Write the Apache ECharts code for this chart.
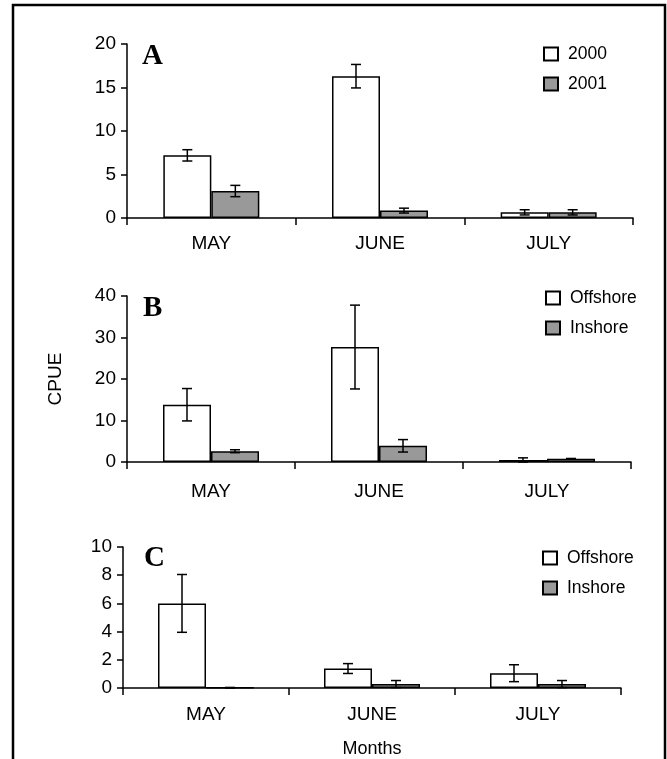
<!DOCTYPE html>
<html lang="en">
<head>
    <meta charset="UTF-8">
    <title>CPUE by month</title>
    <script src="https://cdn.jsdelivr.net/npm/echarts@6/dist/echarts.min.js"></script>
    <style>
        html, body { margin: 0; padding: 0; background: #fff; }
    </style>
</head>
<body>
<!--图形的容器-->
<div id="main" style="width: 667px;height: 759px;"></div>
<script>
    // data
    var months = ['MAY', 'JUNE', 'JULY'];

    // panel A
    var aLegend = ['2000', '2001'];
    var a2000 = [7.2, 16.3, 0.65];
    var a2000Err = [0.65, 1.35, 0.3];
    var a2001 = [3.1, 0.85, 0.65];
    var a2001Err = [0.65, 0.28, 0.3];
    var aTicks = [0, 20, 5];

    // panel B
    var bLegend = ['Offshore', 'Inshore'];
    var bOffshore = [13.8, 27.7, 0.5];
    var bOffshoreErr = [3.9, 10.1, 0.5];
    var bInshore = [2.6, 3.9, 0.8];
    var bInshoreErr = [0.35, 1.5, 0.05];
    var bTicks = [0, 40, 10];

    // panel C
    var cOffshore = [6.0, 1.38, 1.05];
    var cOffshoreErr = [2.05, 0.35, 0.6];
    var cInshore = [0.02, 0.28, 0.28];
    var cInshoreErr = [0.02, 0.25, 0.25];
    var cTicks = [0, 10, 2];

    var FONT = 'Liberation Sans';
    var BAR_W = 48;
    var WHITE = '#ffffff';
    var GREY = '#999999';

    var chart = echarts.init(document.getElementById('main'));

    function yAxis(idx, t, name) {
        return {
            type: 'value', gridIndex: idx, min: t[0], max: t[1], interval: t[2],
            name: name || '', nameLocation: 'middle', nameGap: 62,
            nameTextStyle: {fontFamily: FONT, fontSize: 19, color: '#000'},
            axisLine: {show: true, lineStyle: {color: '#000', width: 1.5}},
            axisTick: {show: true, length: 6, lineStyle: {color: '#000', width: 1.5}},
            axisLabel: {fontFamily: FONT, fontSize: 19, color: '#000', margin: 11},
            splitLine: {show: false}
        };
    }

    function xAxis(idx, margin, name) {
        return {
            type: 'category', gridIndex: idx, data: months,
            name: name || '', nameLocation: 'middle', nameGap: 52,
            nameTextStyle: {fontFamily: FONT, fontSize: 18, color: '#000'},
            axisLine: {lineStyle: {color: '#000', width: 1.5}},
            axisTick: {show: true, length: 7, lineStyle: {color: '#000', width: 1.5}},
            axisLabel: {fontFamily: FONT, fontSize: 19, color: '#000', margin: margin}
        };
    }

    function bar(name, idx, vals, color, overrides) {
        return {
            name: name, type: 'bar', xAxisIndex: idx, yAxisIndex: idx,
            barWidth: BAR_W, barGap: '0%',
            itemStyle: {color: color, borderColor: '#000', borderWidth: 1.5},
            data: vals.map(function (v, i) {
                if (overrides && overrides[i]) {
                    return {value: v, itemStyle: overrides[i]};
                }
                return v;
            })
        };
    }

    // 误差线 (side: -1 left bar, +1 right bar)
    function errBars(idx, vals, errs, side) {
        return {
            type: 'custom', xAxisIndex: idx, yAxisIndex: idx, z: 10, silent: true,
            data: vals.map(function (v, i) { return [i, v - errs[i], v + errs[i]]; }),
            renderItem: function (params, api) {
                var lo = api.coord([api.value(0), Math.max(api.value(1), 0)]);
                var hi = api.coord([api.value(0), api.value(2)]);
                var x = lo[0] + side * BAR_W / 2;
                var cap = 5;
                var st = {stroke: '#000', lineWidth: 1.5};
                return {
                    type: 'group',
                    children: [
                        {type: 'line', shape: {x1: x, y1: lo[1], x2: x, y2: hi[1]}, style: st},
                        {type: 'line', shape: {x1: x - cap, y1: hi[1], x2: x + cap, y2: hi[1]}, style: st},
                        {type: 'line', shape: {x1: x - cap, y1: lo[1], x2: x + cap, y2: lo[1]}, style: st}
                    ]
                };
            }
        };
    }

    function legend(names, left, top) {
        return {
            data: names, orient: 'vertical', left: left, top: top,
            icon: 'rect', itemWidth: 14, itemHeight: 13, itemGap: 12,
            textStyle: {fontFamily: FONT, fontSize: 17.5, color: '#000', padding: [0, 0, 0, 5]},
            selectedMode: false
        };
    }

    function letter(t, x, y) {
        return {
            type: 'text', left: x, top: y,
            style: {text: t, font: 'bold 29px "Liberation Serif"', fill: '#000'}
        };
    }

    var option = {
        animation: false,
        grid: [
            {left: 127, top: 44, width: 506, height: 174},
            {left: 127, top: 296, width: 504, height: 166},
            {left: 123, top: 547, width: 498, height: 145}
        ],
        xAxis: [xAxis(0, 16), xAxis(1, 20), xAxis(2, 17, 'Months')],
        yAxis: [yAxis(0, aTicks), yAxis(1, bTicks, 'CPUE'), yAxis(2, cTicks)],
        legend: [
            legend(aLegend, 538, 40),
            legend(bLegend, 540, 284),
            legend(bLegend, 537, 544)
        ],
        graphic: [
            {type: 'rect', shape: {x: 13, y: 5, width: 652, height: 800},
                style: {fill: 'none', stroke: '#000', lineWidth: 2.5}},
            letter('A', 142, 42),
            letter('B', 143, 294),
            letter('C', 144, 544)
        ],
        series: [
            bar('2000', 0, a2000, WHITE),
            bar('2001', 0, a2001, GREY),
            errBars(0, a2000, a2000Err, -1),
            errBars(0, a2001, a2001Err, 1),

            bar('Offshore', 1, bOffshore, WHITE, {2: {color: '#222'}}),
            bar('Inshore', 1, bInshore, GREY, {2: {color: WHITE}}),
            errBars(1, bOffshore, bOffshoreErr, -1),
            errBars(1, bInshore, bInshoreErr, 1),

            bar('Offshore', 2, cOffshore, WHITE),
            bar('Inshore', 2, cInshore, GREY),
            errBars(2, cOffshore, cOffshoreErr, -1),
            errBars(2, cInshore, cInshoreErr, 1)
        ]
    };

    chart.setOption(option);
</script>
</body>
</html>
